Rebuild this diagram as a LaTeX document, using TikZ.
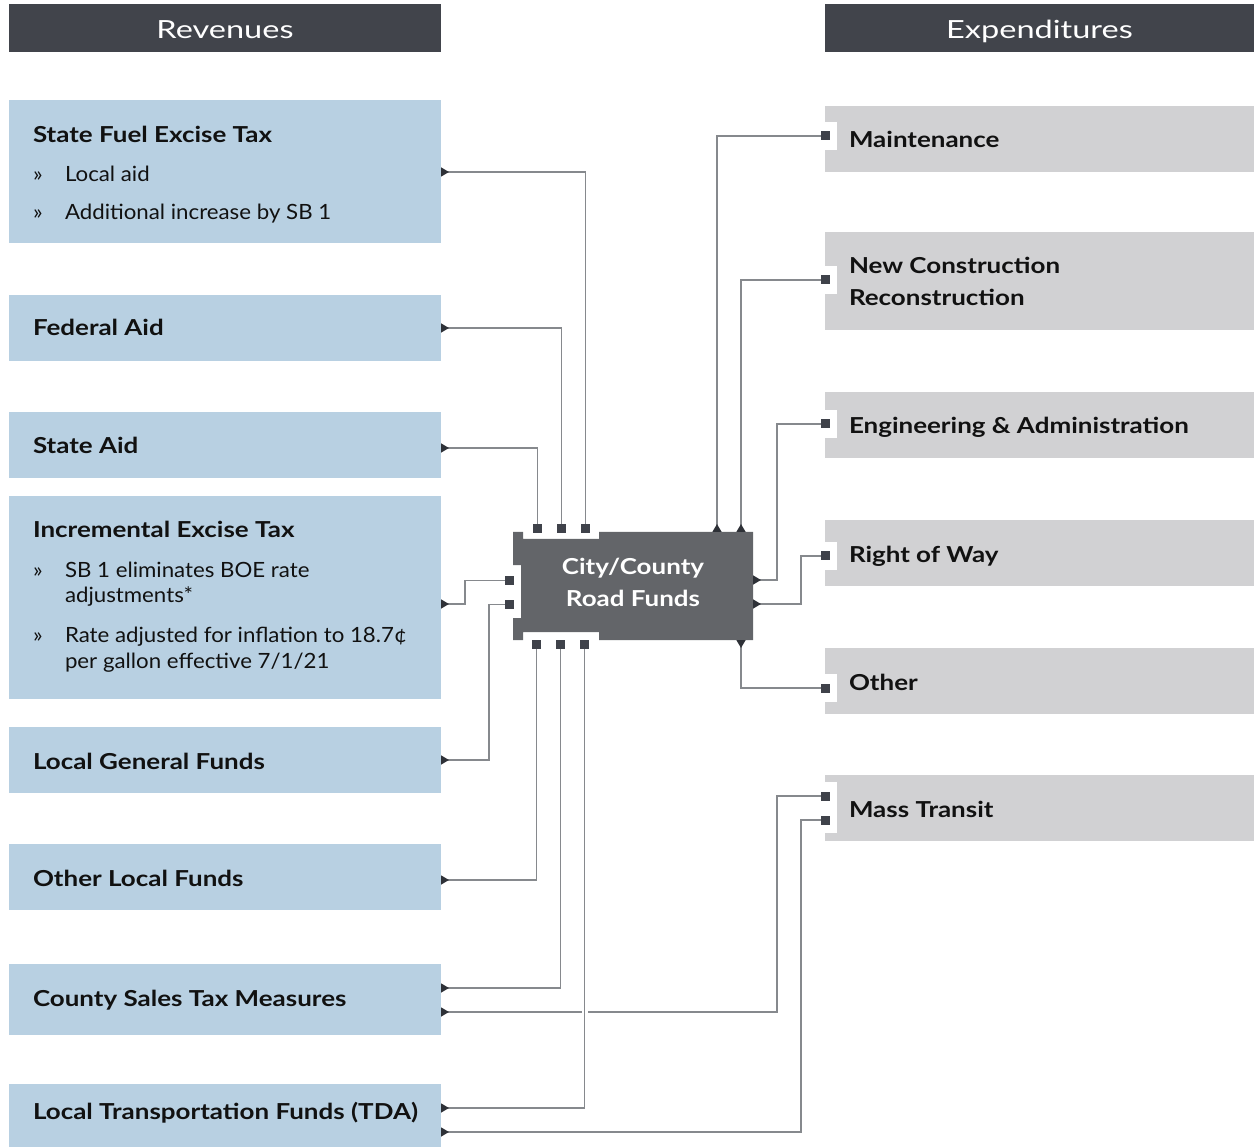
\documentclass[tikz,border=0pt]{standalone}
\usepackage{fontspec}
\setmainfont{Lato}
\newfontfamily\titlefont{Lato}[FakeStretch=1.18]
\newfontfamily\bodyfont{Lato}[FakeStretch=1.06]
\newfontfamily\headfont{Lato}[FakeStretch=1.3]
\usetikzlibrary{arrows.meta,calc}

\definecolor{hdr}{HTML}{41444B}
\definecolor{revblue}{HTML}{B8D0E2}
\definecolor{expgrey}{HTML}{D1D1D3}
\definecolor{fundgrey}{HTML}{636569}
\definecolor{portdark}{HTML}{3F424A}
\definecolor{wire}{HTML}{86898D}
\definecolor{tipdark}{HTML}{2E3137}
\definecolor{ink}{HTML}{111111}

\begin{document}
\begin{tikzpicture}[x=1pt,y=-1pt,
  revbox/.style={rectangle, fill=revblue, minimum width=432pt, inner sep=0pt, outer sep=0pt, anchor=north west},
  expbox/.style={rectangle, fill=expgrey, minimum width=429pt, inner sep=0pt, outer sep=0pt, anchor=north west},
  hdrbox/.style={rectangle, fill=hdr, minimum height=48pt, inner sep=0pt, outer sep=0pt, anchor=north west,
    text=white, text height=26pt, text depth=4pt, font=\headfont\fontsize{25}{30}\selectfont},
  port/.style={rectangle, fill=portdark, minimum size=9pt, inner sep=0pt, outer sep=0pt},
  title/.style={anchor=base west, inner sep=0pt, outer sep=0pt, text=ink, font=\titlefont\fontsize{22}{26}\selectfont\bfseries},
  item/.style={anchor=base west, inner sep=0pt, outer sep=0pt, text=ink, font=\bodyfont\fontsize{21}{25}\selectfont},
  flow/.style={draw=wire, line width=1.4pt, {Triangle[reversed, width=9pt, length=8pt, color=tipdark]}-},
  notch/.style={fill=white}
]
\useasboundingbox (0,0) rectangle (1254,1147);

% column headers
\node[hdrbox, minimum width=432pt] (revh) at (9,4) {Revenues};
\node[hdrbox, minimum width=429pt] (exph) at (825,4) {Expenditures};

% revenue sources
\node[revbox, minimum height=143pt] (fuel) at (9,100) {};
\node[revbox, minimum height=66pt]  (fed)  at (9,295) {};
\node[revbox, minimum height=66pt]  (sa)   at (9,412) {};
\node[revbox, minimum height=203pt] (inc)  at (9,496) {};
\node[revbox, minimum height=66pt]  (lgf)  at (9,727) {};
\node[revbox, minimum height=66pt]  (olf)  at (9,844) {};
\node[revbox, minimum height=71pt]  (cst)  at (9,964) {};
\node[revbox, minimum height=63pt]  (tda)  at (9,1084) {};

\node[title] (fuelT) at (33,143) {State Fuel Excise Tax};
\node[item] (fuelB1) at (33,182) {»};
\node[item] (fuelI1) at (65,182) {Local aid};
\node[item] (fuelB2) at (33,220) {»};
\node[item] (fuelI2) at (65,220) {Additional increase by SB 1};
\node[title] (fedT) at (33,336) {Federal Aid};
\node[title] (saT) at (33,454) {State Aid};
\node[title] (incT) at (33,538) {Incremental Excise Tax};
\node[item] (incB1) at (33,577) {»};
\node[item] (incI1a) at (65,577) {SB 1 eliminates BOE rate};
\node[item] (incI1b) at (65,602) {adjustments*};
\node[item] (incB2) at (33,642) {»};
\node[item] (incI2a) at (65,642) {Rate adjusted for inflation to 18.7¢};
\node[item] (incI2b) at (65,668) {per gallon effective 7/1/21};
\node[title] (lgfT) at (33,769) {Local General Funds};
\node[title] (olfT) at (33,886) {Other Local Funds};
\node[title] (cstT) at (33,1006) {County Sales Tax Measures};
\node[title] (tdaT) at (33,1119) {Local Transportation Funds (TDA)};

% expenditure categories
\node[expbox, minimum height=66pt] (mnt) at (825,106) {};
\node[expbox, minimum height=98pt] (nc)  at (825,232) {};
\node[expbox, minimum height=66pt] (eng) at (825,392) {};
\node[expbox, minimum height=66pt] (row) at (825,520) {};
\node[expbox, minimum height=66pt] (oth) at (825,648) {};
\node[expbox, minimum height=66pt] (mt)  at (825,775) {};

% white cut-outs around the inlet ports
\fill[notch] (825,122) rectangle (837,150);
\fill[notch] (825,266) rectangle (837,294);
\fill[notch] (825,410) rectangle (837,438);
\fill[notch] (825,542) rectangle (837,570);
\fill[notch] (825,674) rectangle (837,702);
\fill[notch] (825,782) rectangle (837,833);

\node[title] (mntT) at (849,148) {Maintenance};
\node[title] (ncT1) at (849,274) {New Construction};
\node[title] (ncT2) at (849,306) {Reconstruction};
\node[title] (engT) at (849,434) {Engineering \& Administration};
\node[title] (rowT) at (849,562) {Right of Way};
\node[title] (othT) at (849,690) {Other};
\node[title] (mtT)  at (849,817) {Mass Transit};

% inlet ports on the expenditure side
\node[port] (pm)  at (825.5,136) {};
\node[port] (pn)  at (825.5,280) {};
\node[port] (pe)  at (825.5,424) {};
\node[port] (pr)  at (825.5,556) {};
\node[port] (po)  at (825.5,688) {};
\node[port] (pt1) at (825.5,796) {};
\node[port] (pt2) at (825.5,820) {};

% central fund block with its notched outline
\fill[fundgrey] (513,532) -- (523,532) -- (523,539) -- (599,539) -- (599,532) -- (753,532)
  -- (753,640) -- (599,640) -- (599,632) -- (523,632) -- (523,640) -- (513,640)
  -- (513,618) -- (521,618) -- (521,565) -- (513,565) -- cycle;
\node[rectangle, minimum width=240pt, minimum height=108pt, inner sep=0pt, outer sep=0pt] (fund) at (633,586) {};
\node[inner sep=0pt, text=white, align=center, font=\titlefont\fontsize{22}{32}\selectfont\bfseries]
  (fundT) at (633,582) {City/County\\Road Funds};

% fund inlet ports
\node[port] (fa1) at (537.5,528.5) {};
\node[port] (fa2) at (561.5,528.5) {};
\node[port] (fa3) at (585.5,528.5) {};
\node[port] (fl1) at (509.5,580.5) {};
\node[port] (fl2) at (509.5,604.5) {};
\node[port] (fb1) at (536.5,644.5) {};
\node[port] (fb2) at (560.5,644.5) {};
\node[port] (fb3) at (584.5,644.5) {};

% revenue flows into the fund
\draw[flow] ($(fuel.north east)+(0,72)$) -| (fa3.north);
\draw[flow] ($(fed.north east)+(0,33)$) -| (fa2.north);
\draw[flow] ($(sa.north east)+(0,36)$) -| (fa1.north);
\draw[flow] ($(inc.north east)+(0,108)$) -- ++(24,0) |- (fl1.west);
\draw[flow] ($(lgf.north east)+(0,33)$) -- ++(48,0) |- (fl2.west);
\draw[flow] ($(olf.north east)+(0,36)$) -| (fb1.south);
\draw[flow] ($(cst.north east)+(0,24)$) -| (fb2.south);
\coordinate (csB) at ($(cst.north east)+(0,48)$);
\draw[flow] (csB) -- ++(336,0) |- (pt1.west);
\path (fb3.south |- csB) coordinate (hop);
\fill[white] ($(hop)+(-3,-2.5)$) rectangle ($(hop)+(3,2.5)$);
\draw[flow] ($(tda.north east)+(0,24)$) -| (fb3.south);
\draw[flow] ($(tda.north east)+(0,48)$) -- ++(360,0) |- (pt2.west);

% fund outflows to expenditures
\draw[flow] ($(fund.north east)+(-36,0)$) |- (pm.west);
\draw[flow] ($(fund.north east)+(-12,0)$) |- (pn.west);
\draw[flow] ($(fund.east)+(0,-6)$) -- ++(24,0) |- (pe.west);
\draw[flow] ($(fund.east)+(0,18)$) -- ++(48,0) |- (pr.west);
\draw[flow] ($(fund.south east)+(-12,0)$) |- (po.west);
\end{tikzpicture}
\end{document}
